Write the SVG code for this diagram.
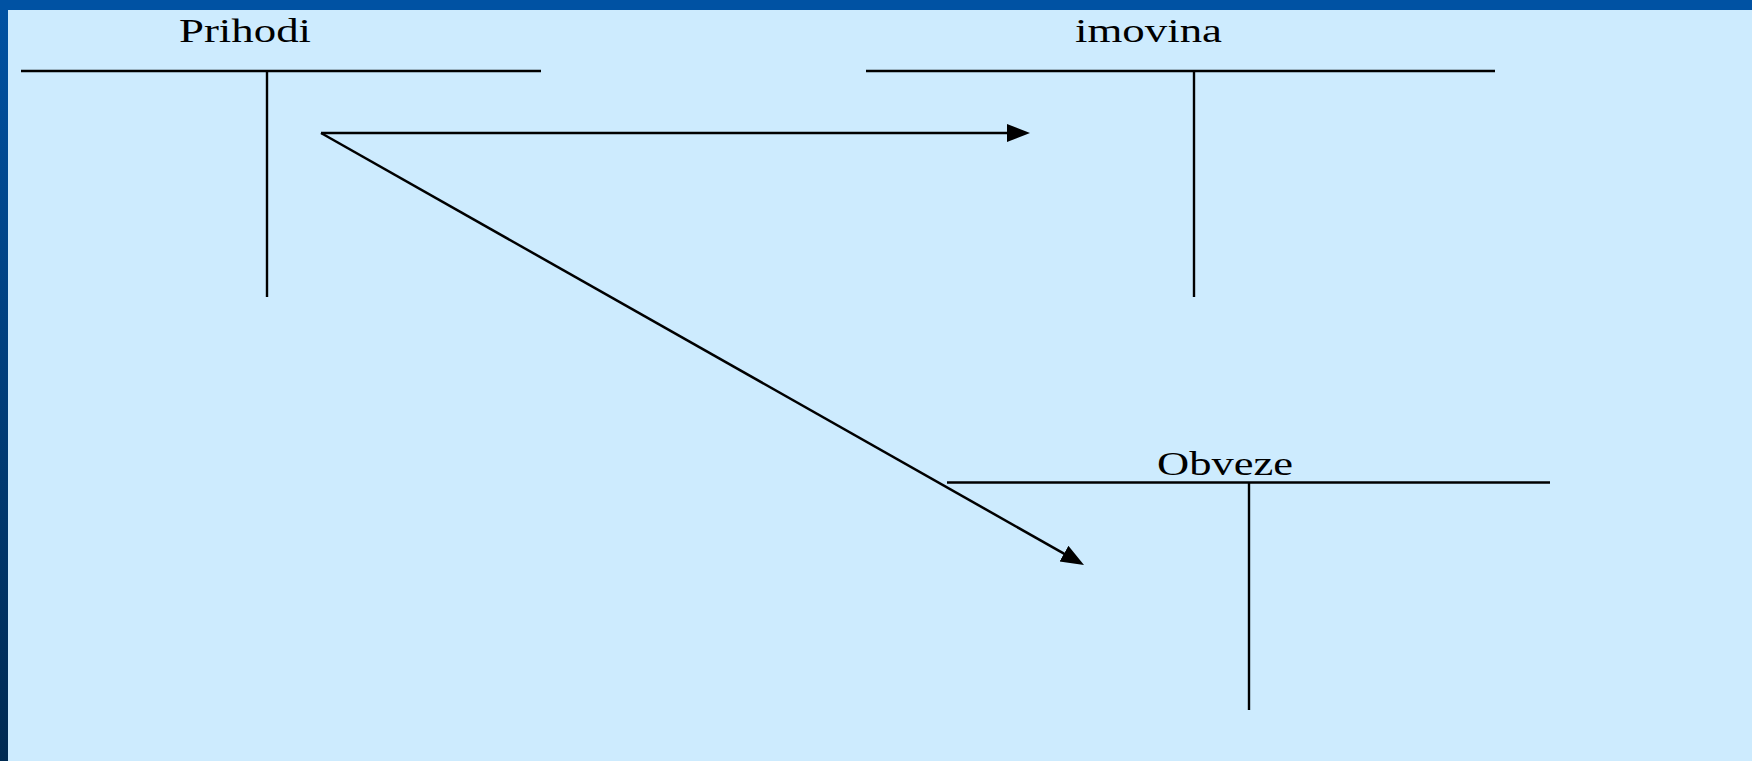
<svg xmlns="http://www.w3.org/2000/svg" width="1752" height="761" viewBox="0 0 1752 761">
  <defs>
    <linearGradient id="side" x1="0" y1="0" x2="0" y2="1">
      <stop offset="0" stop-color="#0052a3"/>
      <stop offset="1" stop-color="#002a52"/>
    </linearGradient>
    <marker id="arrow" markerUnits="userSpaceOnUse" markerWidth="24" markerHeight="20" refX="3" refY="9" orient="auto">
      <path d="M0,0 L23,9 L0,18 z" fill="#000"/>
    </marker>
    <style>
      .lbl { font-family: "Liberation Serif", "Times New Roman", serif; font-size: 34px; fill: #000; }
      .t { stroke: #000; stroke-width: 2.4; fill: none; }
      .conn { stroke: #000; stroke-width: 2.5; fill: none; marker-end: url(#arrow); }
    </style>
  </defs>
  <rect x="0" y="0" width="1752" height="761" fill="#cdebfe"/>
  <rect x="0" y="0" width="8" height="761" fill="url(#side)"/>
  <rect x="0" y="0" width="1752" height="10" fill="#0052a3"/>
  <g id="prihodi">
    <text class="lbl" x="179" y="42" textLength="132" lengthAdjust="spacingAndGlyphs">Prihodi</text>
    <line class="t" x1="21" y1="71" x2="541" y2="71"/>
    <line class="t" x1="267" y1="71" x2="267" y2="297"/>
  </g>
  <g id="imovina">
    <text class="lbl" x="1075" y="42" textLength="147" lengthAdjust="spacingAndGlyphs">imovina</text>
    <line class="t" x1="866" y1="71" x2="1495" y2="71"/>
    <line class="t" x1="1194" y1="71" x2="1194" y2="297"/>
  </g>
  <g id="obveze">
    <text class="lbl" x="1157" y="475" textLength="136" lengthAdjust="spacingAndGlyphs">Obveze</text>
    <line class="t" x1="947" y1="482.5" x2="1550" y2="482.5"/>
    <line class="t" x1="1249" y1="483" x2="1249" y2="710"/>
  </g>
  <g id="connectors">
    <line class="conn" x1="321" y1="133" x2="1010" y2="133"/>
    <line class="conn" x1="321" y1="133" x2="1066.6" y2="555.1"/>
  </g>
</svg>
